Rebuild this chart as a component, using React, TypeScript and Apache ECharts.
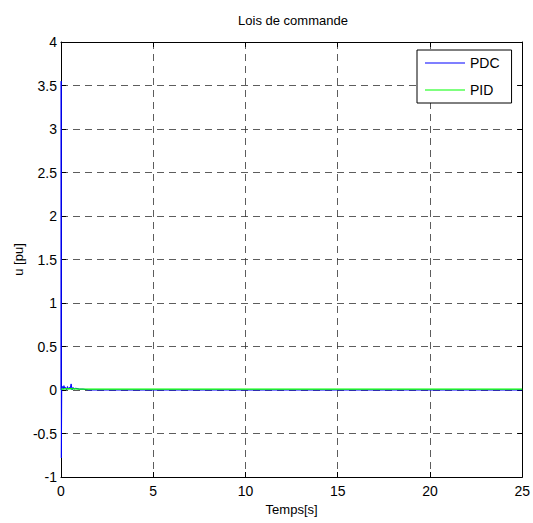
import React, { useEffect, useRef } from "react";
import * as echarts from "echarts";

const pdcTime = [0, 0.01, 0.02, 0.04, 0.08, 0.12, 0.16, 0.2, 0.25, 0.3, 0.35, 0.4, 0.45, 0.5, 0.55, 0.6, 0.65, 0.7, 0.8, 1.0, 1.2, 1.5, 2, 5, 10, 15, 20, 25];
const pdcValues = [0, 3.55, -0.78, 0.02, 0.04, 0.01, 0.05, 0.02, 0.03, 0.0, 0.04, 0.01, 0.03, 0.02, 0.07, 0.0, 0.03, 0.01, 0.02, 0.01, 0.01, 0.0, 0.0, 0, 0, 0, 0, 0];
const pidTime = [0, 0.5, 1, 2, 5, 10, 15, 20, 25];
const pidValues = [0.01, 0.015, 0.01, 0.01, 0.01, 0.01, 0.01, 0.01, 0.01];

const seriesNames = ["PDC", "PID"];
const titleText = "Lois de commande";
const xName = "Temps[s]";
const yName = "u [pu]";

const FONT = "'Liberation Sans', Arial, sans-serif";

export default function App() {
  const ref = useRef<HTMLDivElement>(null);
  useEffect(() => {
    if (!ref.current) return;
    const chart = echarts.init(ref.current, null, { renderer: "svg" });
    const gridLine = { show: true, lineStyle: { color: "#333", width: 0.8, type: [7, 5] as any } };
    const tick = { show: true, inside: true, length: 5, lineStyle: { color: "#000" } };
    const axisLine = { show: true, onZero: false, lineStyle: { color: "#000", width: 1 } };
    chart.setOption({
      animation: false,
      backgroundColor: "#fff",
      textStyle: { fontFamily: FONT },
      title: {
        text: titleText,
        left: 293,
        textAlign: "center",
        top: 14,
        padding: 0,
        textStyle: { fontSize: 13, fontWeight: "normal", color: "#000", fontFamily: FONT },
      },
      grid: { left: 61, right: 8, top: 42, bottom: 46, show: false },
      legend: {
        data: seriesNames.map((n) => ({ name: n, icon: "rect" })),
        orient: "vertical",
        left: 417,
        top: 50,
        padding: [6, 12, 6, 8],
        itemGap: 13,
        itemWidth: 40,
        itemHeight: 1,
        borderColor: "#000",
        borderWidth: 1,
        backgroundColor: "#fff",
        textStyle: { fontSize: 14, lineHeight: 14, color: "#000", fontFamily: FONT },
      },
      xAxis: [
        {
          type: "value",
          min: 0,
          max: 25,
          interval: 5,
          name: xName,
          nameLocation: "middle",
          nameGap: 26,
          nameMoveOverlap: false,
          nameTextStyle: { fontSize: 13, color: "#000", fontFamily: FONT },
          axisLine,
          axisTick: tick,
          axisLabel: { fontSize: 14, color: "#000", margin: 7, fontFamily: FONT },
          splitLine: gridLine,
        },
        {
          type: "value",
          position: "top",
          min: 0,
          max: 25,
          interval: 5,
          axisLine,
          axisTick: tick,
          axisLabel: { show: false },
          splitLine: { show: false },
        },
      ],
      yAxis: [
        {
          type: "value",
          min: -1,
          max: 4,
          interval: 0.5,
          name: yName,
          nameLocation: "middle",
          nameGap: 36,
          nameMoveOverlap: false,
          nameTextStyle: { fontSize: 13, color: "#000", fontFamily: FONT },
          axisLine,
          axisTick: tick,
          axisLabel: { fontSize: 14, color: "#000", margin: 4, fontFamily: FONT },
          splitLine: gridLine,
        },
        {
          type: "value",
          position: "right",
          min: -1,
          max: 4,
          interval: 0.5,
          axisLine,
          axisTick: tick,
          axisLabel: { show: false },
          splitLine: { show: false },
        },
      ],
      series: [
        {
          name: seriesNames[0],
          type: "line",
          symbol: "none",
          data: pdcTime.map((t, i) => [t, pdcValues[i]]),
          lineStyle: { color: "#0000ff", width: 1 },
          itemStyle: { color: "#0000ff" },
        },
        {
          name: seriesNames[1],
          type: "line",
          symbol: "none",
          data: pidTime.map((t, i) => [t, pidValues[i]]),
          lineStyle: { color: "#00ff00", width: 1.2 },
          itemStyle: { color: "#00ff00" },
        },
      ],
    });
    return () => chart.dispose();
  }, []);
  return <div ref={ref} style={{ position: "fixed", left: 0, top: 0, width: 533, height: 523 }} />;
}
